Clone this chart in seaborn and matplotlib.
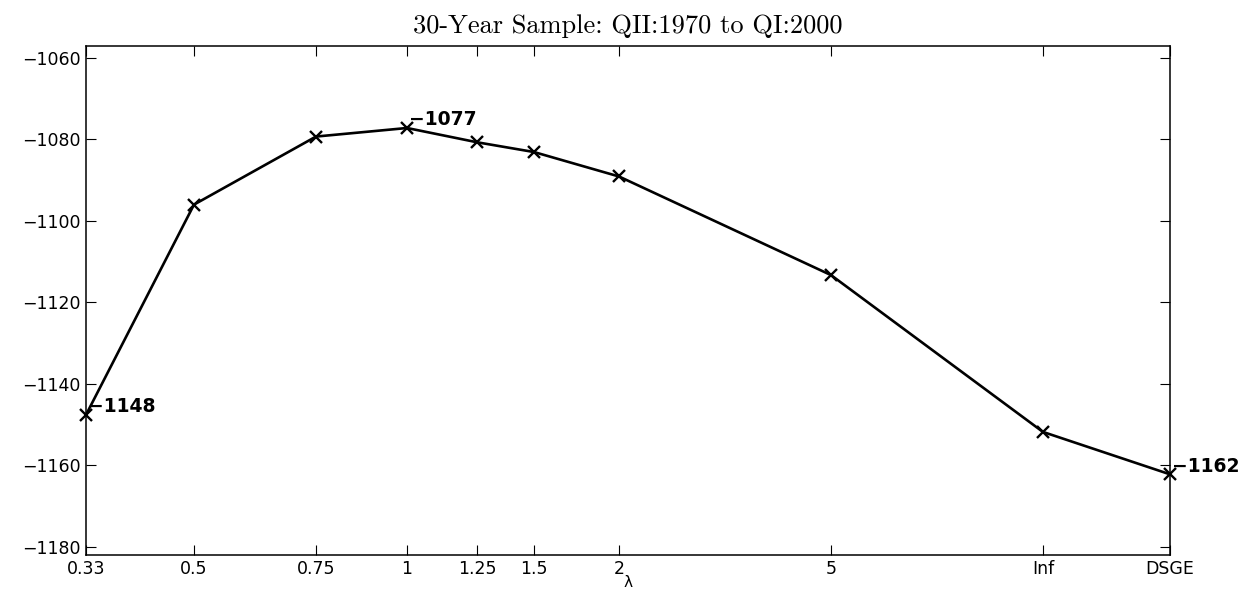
import matplotlib
matplotlib.use('Agg')
import matplotlib.pyplot as plt
import pandas as pd
import seaborn as sns

# lambda values on the x axis and where each one sits along the axis
lam_labels = ['0.33', '0.5', '0.75', '1', '1.25', '1.5', '2', '5', 'Inf', 'DSGE']
lam_pos = [0, 1.08, 2.30, 3.21, 3.91, 4.48, 5.33, 7.45, 9.57, 10.84]
# marginal log likelihood
loglik = [-1147.6, -1096.0, -1079.3, -1077.2, -1080.7, -1083.1, -1089.1,
          -1113.3, -1151.8, -1162.2]
# points that carry a value label
marked = [0, 3, 9]

df = pd.DataFrame({'lam': lam_labels, 'pos': lam_pos, 'loglik': loglik})

sns.set_style('ticks')
plt.rcParams['font.family'] = ['DejaVu Sans']
plt.rcParams['text.color'] = 'black'
plt.rcParams['axes.labelcolor'] = 'black'

fig = plt.figure(figsize=(12.48, 5.9), dpi=100)
ax = fig.add_axes([86 / 1248, 1 - 555 / 590, (1170 - 86) / 1248, (555 - 45.7) / 590])

sns.lineplot(data=df, x='pos', y='loglik', ax=ax, color='black', linewidth=1.9,
             marker='x', markersize=9, markeredgecolor='black',
             markeredgewidth=1.7, clip_on=False, zorder=3)

for i in marked:
    ax.annotate('\u2212%d' % abs(round(df.loglik[i])), (df.pos[i], df.loglik[i]),
                xytext=(1.5, 2), textcoords='offset points', ha='left',
                va='baseline', fontsize=13.5, fontweight='bold', color='black',
                zorder=4)

ax.set_xlim(lam_pos[0], lam_pos[-1])
ax.set_ylim(-1182, -1057)
ax.set_xticks(lam_pos)
ax.set_xticklabels(lam_labels)
ax.set_yticks(range(-1180, -1059, 20))
ax.set_yticklabels(['\u2212%d' % abs(t) for t in range(-1180, -1059, 20)])

for s in ax.spines.values():
    s.set_visible(True)
    s.set_linewidth(1.1)
    s.set_color('black')
ax.tick_params(direction='in', length=7.5, width=0.8, top=True, right=True,
               labelsize=12.5, colors='black')
ax.tick_params(axis='y', pad=4)
ax.tick_params(axis='x', pad=3.5)

ax.set_xlabel('λ', fontsize=11, labelpad=-2)
ax.set_ylabel('')
ax.set_title('30-Year Sample: QII:1970 to QI:2000', family='cmr10',
             fontsize=19, pad=9, color='black')

fig.savefig('out.png', dpi=100, facecolor='white')
